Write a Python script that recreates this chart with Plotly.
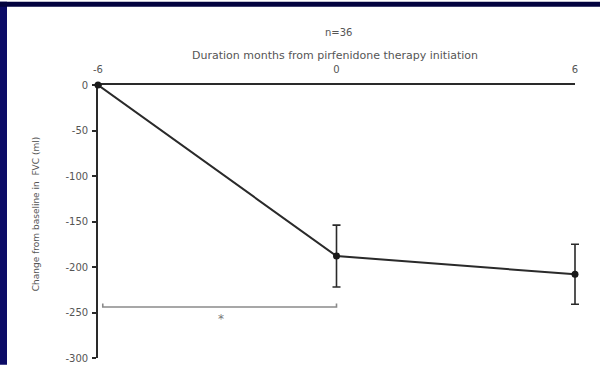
import plotly.graph_objects as go

# Data
months = [-6, 0, 6]
fvc_change = [0, -188, -208]
fvc_err = [0, 34, 33]
tick_months = [-6, 0, 6]
tick_month_labels = ["-6", "0", "6"]
tick_fvc = [0, -50, -100, -150, -200, -250, -300]
tick_fvc_labels = ["0", "-50", "-100", "-150", "-200", "-250", "-300"]

# significance bracket between -6 and 0 months
bracket_x = [-5.88, -5.88, 0, 0]
bracket_y = [-240, -244, -244, -240]
star_x = -2.9
star_y = -257

W, H = 600, 371
L, R, T, B = 98, 15, 85, 7
AX_RIGHT = 575  # pixel where x = 6 sits
pw, ph = W - L - R, H - T - B
dom_frac = (AX_RIGHT - L) / pw
x_lo, x_hi = -6, 6
x2_hi = x_lo + (x_hi - x_lo) / dom_frac  # wider invisible axis so end caps are not clipped

fig = go.Figure()

fig.add_trace(go.Scatter(
    x=bracket_x, y=bracket_y, mode="lines",
    xaxis="x2", yaxis="y",
    line=dict(color="#8a8a8a", width=1.6),
    hoverinfo="skip", showlegend=False,
))

fig.add_trace(go.Scatter(
    x=months, y=fvc_change, mode="lines+markers",
    xaxis="x2", yaxis="y",
    line=dict(color="#2a2a2a", width=2),
    marker=dict(color="#1a1a1a", size=7),
    error_y=dict(type="data", array=fvc_err, visible=True,
                 color="#2a2a2a", thickness=1.6, width=4),
    cliponaxis=False, showlegend=False,
))

fam = "DejaVu Sans, Arial, sans-serif"
font = dict(family=fam, size=10, color="#555555")

fig.update_layout(
    width=W, height=H,
    margin=dict(l=L, r=R, t=T, b=B),
    paper_bgcolor="white", plot_bgcolor="white",
    font=font,
    xaxis=dict(
        domain=[0, dom_frac],
        range=[x_lo, x_hi], side="top", tickvals=tick_months, ticktext=tick_month_labels,
        showgrid=False, zeroline=False,
        showline=True, linecolor="#2a2a2a", linewidth=1.6,
        ticks="inside", ticklen=4, tickcolor="#2a2a2a", tickwidth=1.5,
        ticklabelstandoff=6,
    ),
    xaxis2=dict(
        domain=[0, 1], range=[x_lo, x2_hi], anchor="y", visible=False,
        showgrid=False, zeroline=False,
    ),
    yaxis=dict(
        range=[-300, 0], tickvals=tick_fvc, ticktext=tick_fvc_labels,
        showgrid=False, zeroline=False,
        showline=True, linecolor="#2a2a2a", linewidth=1.6,
        ticks="outside", ticklen=4, tickcolor="#2a2a2a", tickwidth=1.5,
        ticklabelstandoff=2,
    ),
    annotations=[
        dict(text="n=36", xref="paper", yref="paper", x=(338 - L) / pw,
             y=(H - B - 31) / ph, showarrow=False, font=font,
             xanchor="center", yanchor="middle"),
        dict(text="Duration months from pirfenidone therapy initiation",
             xref="paper", yref="paper", x=(335 - L) / pw,
             y=(H - B - 55) / ph, showarrow=False,
             font=dict(family=fam, size=11, color="#555555"),
             xanchor="center", yanchor="middle"),
        dict(text="Change from baseline in  FVC (ml)", xref="paper", yref="paper",
             x=(36 - L) / pw, y=(H - B - 217) / ph, textangle=-90,
             showarrow=False, font=dict(family=fam, size=9, color="#555555"),
             xanchor="center", yanchor="middle"),
        dict(text="*", x=star_x, y=star_y, xref="x", yref="y",
             showarrow=False, font=dict(family=fam, size=12, color="#777777")),
    ],
    shapes=[
        # navy frame (left and top)
        dict(type="rect", xref="paper", yref="paper", layer="above",
             x0=-L / pw, x1=(7 - L) / pw, y0=-B / ph, y1=(H - B) / ph,
             fillcolor="#0b0b66", line=dict(width=0)),
        dict(type="rect", xref="paper", yref="paper", layer="above",
             x0=-L / pw, x1=(W - L) / pw, y0=(H - B - 5) / ph, y1=(H - B) / ph,
             fillcolor="#03033f", line=dict(width=0)),
    ],
)

fig.write_html("out.html", config={"displayModeBar": False},
               post_script="document.body.style.margin='0px';")
